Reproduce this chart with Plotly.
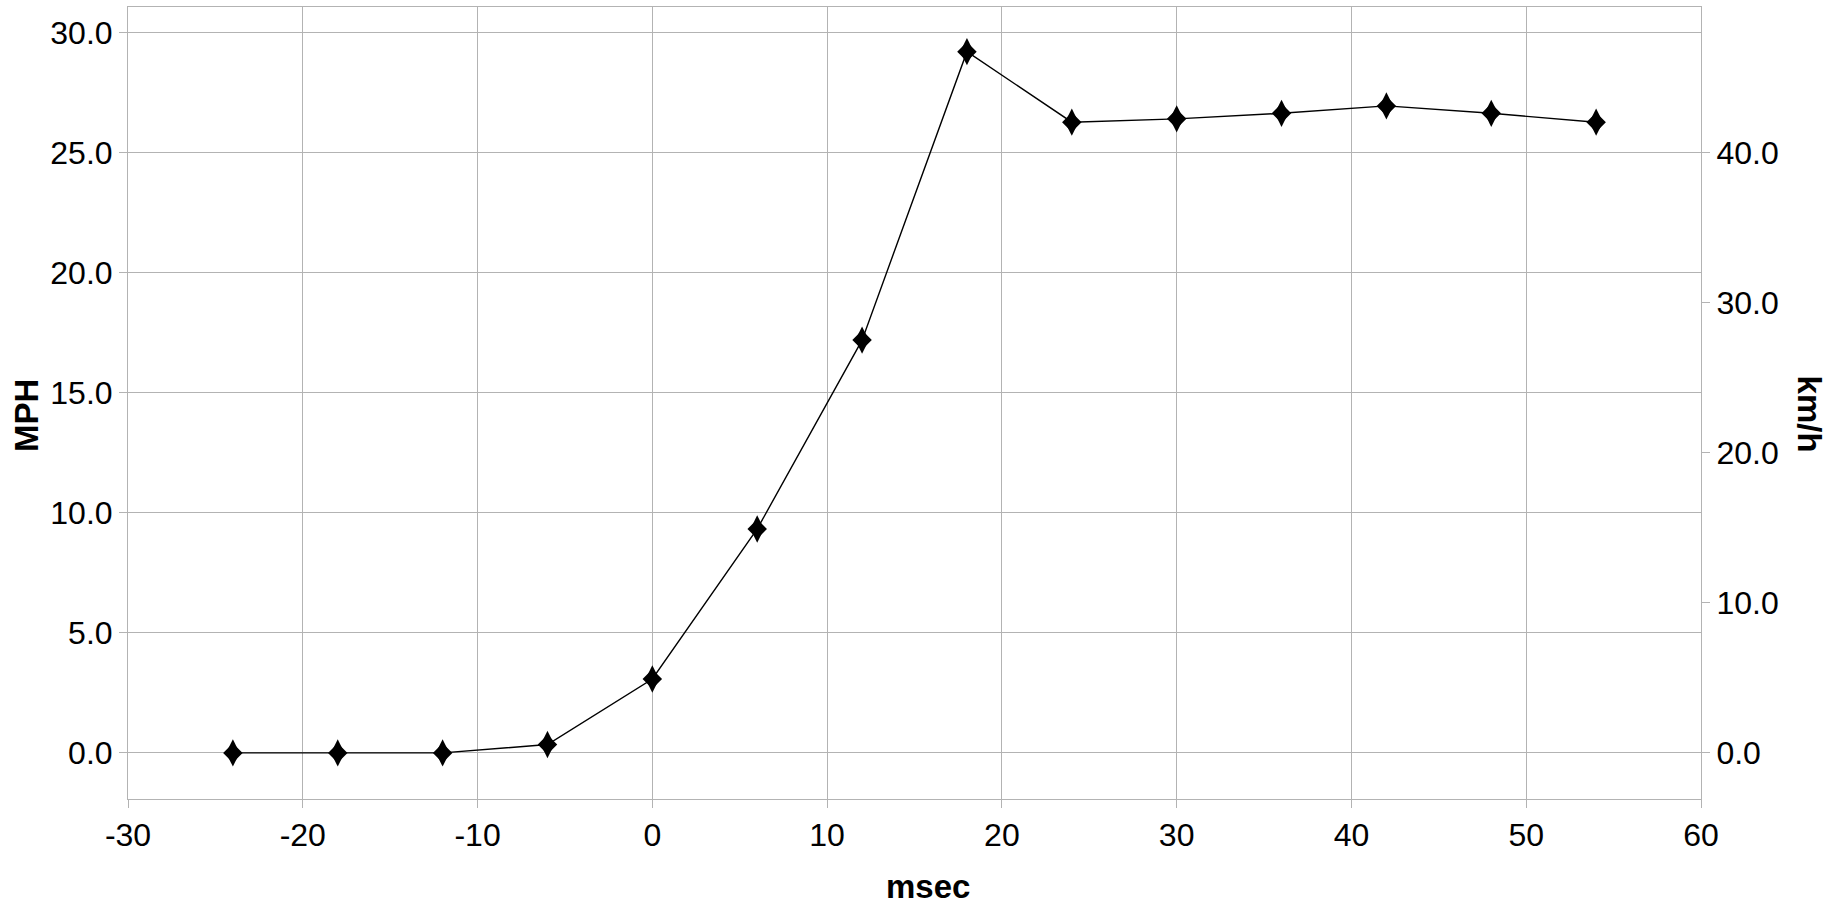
import plotly.graph_objects as go

# Data
msec = [-24, -18, -12, -6, 0, 6, 12, 18, 24, 30, 36, 42, 48, 54]
mph = [0.0, 0.0, 0.0, 0.35, 3.08, 9.33, 17.2, 29.22, 26.28, 26.42, 26.65, 26.96, 26.65, 26.28]

x_ticks = [-30, -20, -10, 0, 10, 20, 30, 40, 50, 60]
mph_ticks = [0, 5, 10, 15, 20, 25, 30]
kmh_ticks = [0, 10, 20, 30, 40]
KMH_PER_MPH = 1.6

mph_range = [-1.92, 31.08]
kmh_range = [mph_range[0] * KMH_PER_MPH, mph_range[1] * KMH_PER_MPH]

GRID = "#b3b3b3"
FONT = "Liberation Sans, Arial, sans-serif"

fig = go.Figure()
fig.add_trace(go.Scatter(
    x=msec, y=mph, mode="lines+markers",
    line=dict(color="black", width=1.4),
    marker=dict(symbol="diamond-tall", size=19.5, color="black"),
    showlegend=False, cliponaxis=False,
))
# second marker layer widening the diamonds (same data points)
fig.add_trace(go.Scatter(
    x=msec, y=mph, mode="markers",
    marker=dict(symbol="diamond", size=15, color="black"),
    showlegend=False, cliponaxis=False, hoverinfo="skip",
))
# invisible trace to activate the km/h axis
fig.add_trace(go.Scatter(x=[msec[0]], y=[mph[0] * KMH_PER_MPH], yaxis="y2",
                         mode="markers", marker=dict(opacity=0), showlegend=False,
                         hoverinfo="skip"))

fig.update_layout(
    width=1837, height=905,
    margin=dict(l=128, r=136, t=7, b=106),
    paper_bgcolor="white", plot_bgcolor="white",
    font=dict(family=FONT, size=32, color="black"),
    xaxis=dict(
        range=[-30, 60], tickvals=x_ticks, ticktext=[str(v) for v in x_ticks],
        showgrid=True, gridcolor=GRID, gridwidth=1,
        showline=True, linecolor=GRID, linewidth=1, mirror=True,
        ticks="outside", ticklen=8, tickcolor=GRID,
        zeroline=False, tickfont=dict(size=32),
    ),
    yaxis=dict(
        range=mph_range, tickvals=mph_ticks,
        ticktext=[f"{v:.1f}" for v in mph_ticks],
        showgrid=True, gridcolor=GRID, gridwidth=1,
        showline=True, linecolor=GRID, linewidth=1, mirror=True,
        ticks="outside", ticklen=8, tickcolor=GRID,
        zeroline=False, tickfont=dict(size=32),
    ),
    yaxis2=dict(
        range=kmh_range, overlaying="y", side="right",
        tickvals=kmh_ticks, ticktext=[f"{v:.1f}" for v in kmh_ticks],
        showgrid=False, showline=False, zeroline=False,
        ticks="outside", ticklen=8, tickcolor=GRID,
        tickfont=dict(size=32),
    ),
    annotations=[
        dict(text="<b>MPH</b>", xref="paper", yref="paper", x=-0.0642, y=0.4836,
             textangle=-90, showarrow=False, xanchor="center", yanchor="middle",
             font=dict(size=33, family=FONT)),
        dict(text="<b>km/h</b>", xref="paper", yref="paper", x=1.0696, y=0.4861,
             textangle=90, showarrow=False, xanchor="center", yanchor="middle",
             font=dict(size=33, family=FONT)),
        dict(text="<b>msec</b>", xref="paper", yref="paper", x=0.5086, y=-0.110,
             showarrow=False, xanchor="center", yanchor="middle",
             font=dict(size=33, family=FONT)),
    ],
)

fig.write_html("out.html", config={"displayModeBar": False},
               post_script="document.body.style.margin='0px';")
